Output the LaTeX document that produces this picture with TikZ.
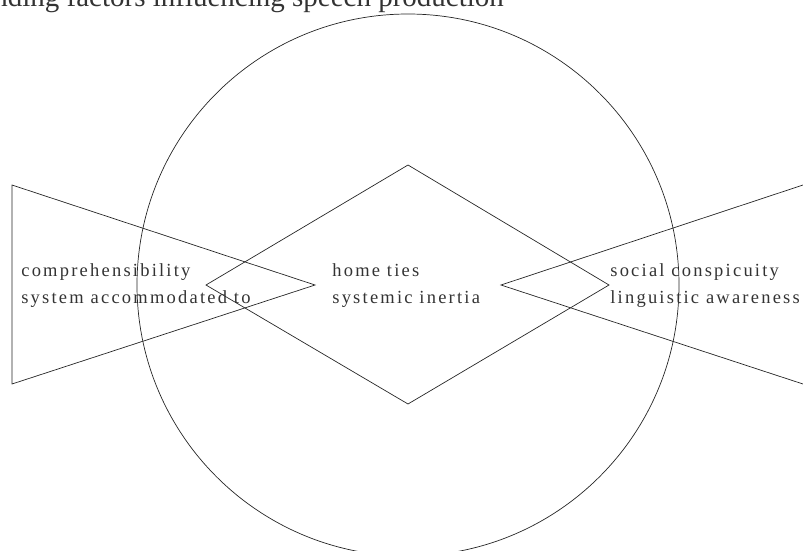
\documentclass[tikz,border=0pt]{standalone}
\usepackage{fontspec}
\setmainfont{Liberation Serif}
\newfontfamily\spacedfont[LetterSpace=12]{Liberation Serif}

\begin{document}
\begin{tikzpicture}[x=1pt, y=-1pt, line width=0.7pt,
	every node/.style={font=\spacedfont\fontsize{18.5}{27}\selectfont, text=black!80, inner sep=0pt},
	factor/.style={align=left, anchor=base west}]
	\useasboundingbox (0,0) rectangle (803,550);
	% title, cut by the page edge
	\node[anchor=base west, font=\fontsize{29}{33}\selectfont] (title) at (-7,6) {nding factors influencing speech production};
	% outer circle
	\coordinate (centre) at (408,285);
	\draw[black!85] (centre) circle[radius=271];
	% diamond
	\coordinate (dtop) at (408,165);
	\coordinate (dright) at (609,285);
	\coordinate (dbottom) at (408,404);
	\coordinate (dleft) at (206,285);
	\draw[black!85] (dtop) -- (dright) -- (dbottom) -- (dleft) -- cycle;
	% left and right wedges
	\coordinate (ltop) at (12,185);
	\coordinate (ltip) at (315,285);
	\coordinate (lbottom) at (12,384);
	\draw[black!85] (ltop) -- (ltip) -- (lbottom) -- cycle;
	\coordinate (rtop) at (803,185);
	\coordinate (rtip) at (501,285);
	\coordinate (rbottom) at (803,384);
	\draw[black!85] (rtop) -- (rtip) -- (rbottom);
	% labels (base = last line)
	\node[factor] (left) at (21,303) {comprehensibility\\system accommodated to};
	\node[factor] (middle) at (332,303) {home ties\\systemic inertia};
	\node[factor] (right) at (610,303) {social conspicuity\\linguistic awareness};
\end{tikzpicture}
\end{document}
